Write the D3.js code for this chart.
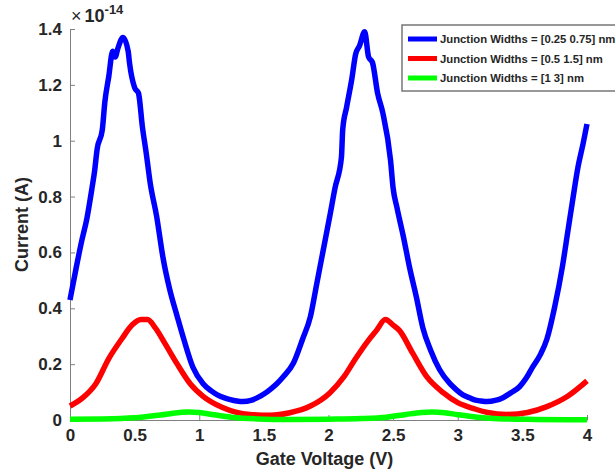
<!DOCTYPE html>
<html>
<head>
<meta charset="utf-8">
<script src="https://cdn.jsdelivr.net/npm/d3@7"></script>
<style>
  body { margin: 0; background: #fff; }
  svg text { font-family: "Liberation Sans", Arial, sans-serif; font-weight: bold; fill: #262626; }
</style>
</head>
<body>
<div id="graf"></div>
<script>
// datos (V, I en unidades de 1e-14 A)
var vAzul = [0, 0.05, 0.09, 0.13, 0.17, 0.19, 0.21, 0.25, 0.27, 0.30, 0.33, 0.35, 0.37, 0.41, 0.45, 0.46, 0.50, 0.53, 0.56, 0.59, 0.62, 0.67, 0.72, 0.77, 0.83, 0.88, 0.95, 1.03, 1.09, 1.14, 1.19, 1.24, 1.29, 1.34, 1.40, 1.45, 1.50, 1.55, 1.60, 1.65, 1.73, 1.80, 1.86, 1.91, 1.96, 2.01, 2.05, 2.10, 2.11, 2.14, 2.18, 2.21, 2.24, 2.28, 2.31, 2.34, 2.38, 2.42, 2.48, 2.50, 2.53, 2.58, 2.63, 2.68, 2.73, 2.79, 2.86, 2.94, 2.99, 3.04, 3.09, 3.13, 3.18, 3.23, 3.29, 3.35, 3.41, 3.48, 3.53, 3.58, 3.64, 3.69, 3.75, 3.81, 3.85, 3.89, 3.93, 3.97, 4.00]
var iAzul = [0.43, 0.55, 0.64, 0.72, 0.83, 0.89, 0.97, 1.04, 1.14, 1.23, 1.32, 1.30, 1.33, 1.37, 1.32, 1.28, 1.19, 1.17, 1.05, 0.955, 0.85, 0.73, 0.58, 0.47, 0.37, 0.29, 0.19, 0.13, 0.105, 0.09, 0.08, 0.073, 0.068, 0.066, 0.07, 0.08, 0.093, 0.11, 0.13, 0.155, 0.205, 0.29, 0.37, 0.49, 0.61, 0.73, 0.83, 0.94, 1.04, 1.12, 1.22, 1.31, 1.34, 1.39, 1.30, 1.28, 1.17, 1.10, 0.93, 0.83, 0.76, 0.655, 0.54, 0.44, 0.33, 0.25, 0.18, 0.13, 0.108, 0.09, 0.08, 0.072, 0.068, 0.066, 0.07, 0.08, 0.097, 0.12, 0.15, 0.19, 0.235, 0.29, 0.405, 0.55, 0.67, 0.79, 0.905, 0.99, 1.06]

var vRojo = [0, 0.10, 0.20, 0.30, 0.40, 0.48, 0.55, 0.60, 0.66, 0.74, 0.83, 0.93, 1.03, 1.18, 1.39, 1.55, 1.70, 1.86, 2.01, 2.12, 2.21, 2.30, 2.37, 2.44, 2.50, 2.55, 2.65, 2.76, 2.89, 3.00, 3.13, 3.23, 3.38, 3.54, 3.69, 3.85, 4.00]
var iRojo = [0.05, 0.08, 0.13, 0.22, 0.29, 0.34, 0.36, 0.36, 0.33, 0.27, 0.20, 0.13, 0.085, 0.045, 0.02, 0.017, 0.026, 0.05, 0.097, 0.155, 0.22, 0.28, 0.32, 0.36, 0.34, 0.32, 0.24, 0.155, 0.097, 0.062, 0.04, 0.027, 0.02, 0.027, 0.048, 0.085, 0.14]

var vVerde = [0, 0.25, 0.50, 0.70, 0.85, 0.92, 1.00, 1.10, 1.25, 1.45, 1.70, 2.00, 2.25, 2.45, 2.60, 2.72, 2.80, 2.90, 3.00, 3.15, 3.35, 3.60, 3.85, 4.00]
var iVerde = [0.003, 0.004, 0.008, 0.018, 0.027, 0.029, 0.027, 0.02, 0.01, 0.004, 0.002, 0.003, 0.005, 0.01, 0.02, 0.027, 0.029, 0.026, 0.019, 0.01, 0.004, 0.002, 0.001, 0.001]

var series = ['Junction Widths = [0.25 0.75] nm', 'Junction Widths = [0.5 1.5] nm', 'Junction Widths = [1 3] nm']
var colores = ['#0000ff', '#ff0000', '#00ff00']
var ticksX = [0, 0.5, 1, 1.5, 2, 2.5, 3, 3.5, 4]
var ticksY = [0, 0.2, 0.4, 0.6, 0.8, 1, 1.2, 1.4]

var datos = [
  vAzul.map((v, i) => ({ v: v, i: iAzul[i] })),
  vRojo.map((v, i) => ({ v: v, i: iRojo[i] })),
  vVerde.map((v, i) => ({ v: v, i: iVerde[i] }))
]

// margenes
ancho_total = 615
alto_total = 471
margins = { top: 29, left: 70, right: 28, bottom: 51 }
ancho = ancho_total - margins.left - margins.right
alto = alto_total - margins.top - margins.bottom

svg = d3.select('#graf').append('svg')
  .attr('width', ancho_total)
  .attr('height', alto_total)

g = svg.append('g')
  .attr('transform', `translate(${ margins.left }, ${ margins.top })`)

x = d3.scaleLinear().domain([0, 4]).range([0, ancho])
y = d3.scaleLinear().domain([0, 1.4]).range([alto, 0])

// ejes
xAxisGroup = g.append('g')
  .attr('transform', `translate(0, ${ alto })`)
  .call(d3.axisBottom(x).tickValues(ticksX).tickSizeInner(-5).tickSizeOuter(0).tickPadding(9).tickFormat(d => d + ''))
yAxisGroup = g.append('g')
  .call(d3.axisLeft(y).tickValues(ticksY).tickSizeInner(-5).tickSizeOuter(0).tickPadding(8).tickFormat(d => d + ''))

g.selectAll('.domain, .tick line').attr('stroke', '#808080').attr('stroke-width', 1)
g.selectAll('.tick text').style('font-size', '17px').attr('fill', '#262626')

// lineas
linea = d3.line().x(d => x(d.v)).y(d => y(d.i)).curve(d3.curveMonotoneX)
g.selectAll('path.serie')
  .data(datos)
  .enter().append('path')
  .attr('class', 'serie')
  .attr('d', linea)
  .attr('fill', 'none')
  .attr('stroke', (d, k) => colores[k])
  .attr('stroke-width', 5.5)
  .attr('stroke-linejoin', 'round')

// exponente
var expo = svg.append('text').attr('x', 71).attr('y', 22).style('font-size', '18px')
expo.append('tspan').text('\u00d7').style('font-weight', 'normal')
expo.append('tspan').attr('dx', 3).text('10')
expo.append('tspan').attr('dy', -8).style('font-size', '13px').text('-14')

// titulos de ejes
svg.append('text')
  .attr('x', margins.left + ancho / 2 - 4)
  .attr('y', 465)
  .attr('text-anchor', 'middle')
  .style('font-size', '18px')
  .text('Gate Voltage (V)')

svg.append('text')
  .attr('transform', `translate(28, ${ margins.top + alto / 2 })rotate(-90)`)
  .attr('text-anchor', 'middle')
  .style('font-size', '18px')
  .text('Current (A)')

// leyenda
leyenda = svg.append('g').attr('transform', 'translate(402, 25)')
leyenda.append('rect')
  .attr('width', 216).attr('height', 66)
  .attr('fill', '#fff').attr('stroke', '#777').attr('stroke-width', 1.5)
series.forEach((s, k) => {
  var yy = 14 + k * 19.5
  leyenda.append('line')
    .attr('x1', 6).attr('x2', 35).attr('y1', yy).attr('y2', yy)
    .attr('stroke', colores[k]).attr('stroke-width', 5)
  leyenda.append('text')
    .attr('x', 38).attr('y', yy + 4)
    .style('font-size', '11.3px')
    .attr('fill', '#000')
    .text(s)
})
</script>
</body>
</html>
